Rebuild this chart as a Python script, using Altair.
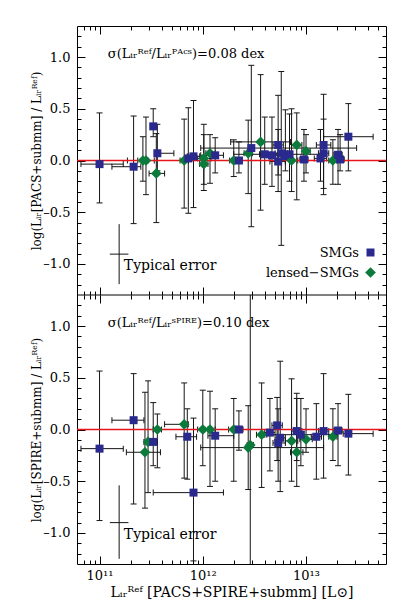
import altair as alt
import pandas as pd

# ---------------- data: top panel (PACS) ----------------
top_logL = [11.00, 11.33, 11.45, 11.42, 11.52, 11.56, 11.55, 11.82, 11.86, 11.91,
            12.01, 12.01, 12.07, 12.12, 12.30, 12.35, 12.44, 12.47, 12.56, 12.60,
            12.67, 12.73, 12.73, 12.76, 12.80, 12.91, 12.86, 12.84, 13.00, 12.98,
            13.17, 13.17, 13.14, 13.26, 13.31, 13.33, 13.41]
top_ratio = [-0.035, -0.06, 0.00, 0.00, 0.33, 0.07, -0.125, 0.00, 0.02, 0.04,
             0.02, -0.035, 0.07, 0.05, 0.00, 0.00, 0.07, 0.12, 0.18, 0.06,
             0.05, 0.15, -0.01, 0.07, 0.04, 0.15, 0.00, 0.06, 0.09, 0.01,
             0.15, 0.07, 0.02, 0.00, 0.055, 0.01, 0.23]
top_hi = [0.46, 0.43, 0.42, 0.23, 0.50, 0.35, 0.26, 0.40, 0.51, 0.58,
          0.25, 0.35, 0.25, 0.22, 0.20, 0.18, 0.39, 0.92, 0.83, 0.42,
          0.42, 0.63, 0.30, 0.86, 0.49, 0.46, 0.50, 0.45, 0.25, 0.30,
          0.64, 0.40, 0.30, 0.20, 0.30, 0.25, 0.55]
top_lo = [-0.41, -0.61, -0.33, -0.20, 0.23, -0.10, -0.60, -0.46, -0.51, -0.455,
          -0.29, -0.23, -0.22, -0.12, -0.155, -0.12, -0.32, -0.64, -0.48, -0.23,
          -0.25, -0.14, -0.30, -0.82, -0.10, -0.38, -0.30, -0.20, -0.12, -0.20,
          -0.27, -0.33, -0.20, -0.23, -0.23, -0.10, -0.10]
top_xlo = [10.82, 11.12, 11.27, 11.37, 11.50, 11.54, 11.48, 11.78, 11.83, 11.85,
           11.95, 11.97, 12.03, 11.98, 12.26, 12.32, 12.40, 11.98, 12.27, 12.55,
           12.62, 12.68, 12.65, 12.70, 12.76, 12.86, 12.80, 12.30, 12.96, 12.94,
           13.10, 13.12, 13.08, 13.22, 13.27, 13.29, 13.17]
top_xhi = [11.23, 11.40, 11.53, 11.47, 11.54, 11.72, 11.63, 11.86, 11.89, 11.97,
           12.08, 12.05, 12.12, 12.20, 12.34, 12.38, 12.48, 13.49, 12.85, 12.66,
           12.72, 12.78, 12.80, 12.82, 12.86, 12.96, 12.92, 13.20, 13.04, 13.02,
           13.24, 13.22, 13.20, 13.30, 13.35, 13.37, 13.65]
top_type = ["S", "S", "L", "L", "S", "S", "L", "L", "S", "S",
            "L", "L", "L", "S", "L", "S", "L", "S", "L", "S",
            "S", "S", "S", "S", "S", "L", "L", "S", "L", "S",
            "S", "S", "S", "L", "S", "S", "S"]

# ---------------- data: bottom panel (SPIRE) ----------------
bot_logL = [11.00, 11.33, 11.44, 11.47, 11.52, 11.56, 11.82, 11.85, 11.91, 12.00,
            12.07, 12.12, 12.30, 12.35, 12.44, 12.46, 12.57, 12.65, 12.72, 12.75,
            12.73, 12.86, 12.91, 12.91, 13.00, 13.17, 13.10, 13.26, 13.31, 13.41,
            12.95]
bot_ratio = [-0.185, 0.09, -0.22, -0.12, -0.12, 0.00, 0.05, -0.07, -0.61, 0.00,
             0.00, -0.06, 0.00, 0.00, -0.175, -0.15, -0.05, -0.03, 0.04, -0.08,
             -0.13, -0.11, -0.22, -0.015, -0.095, -0.015, -0.07, -0.07, -0.01, -0.04,
             -0.05]
bot_hi = [0.565, 0.54, 0.36, 0.47, 0.26, 0.15, 0.45, 0.20, 0.11, 0.38,
          0.37, 0.20, 0.30, 0.18, 0.23, 1.60, 0.45, 0.30, 0.31, 0.66,
          0.20, 0.49, 0.30, 0.35, 0.20, 0.54, 0.25, 0.20, 0.25, 0.34,
          0.30]
bot_lo = [-0.88, -0.72, -0.76, -0.61, -0.35, -0.37, -0.47, -0.48, -1.27, -0.35,
          -0.55, -0.50, -0.50, -0.20, -0.58, -1.60, -0.56, -0.40, -0.30, -0.60,
          -0.50, -0.50, -0.55, -0.30, -0.22, -0.47, -0.48, -0.30, -0.35, -0.44,
          -0.35]
bot_xlo = [10.82, 11.12, 11.26, 11.43, 11.48, 11.52, 11.63, 11.74, 11.52, 11.95,
           12.02, 12.05, 12.25, 12.31, 11.98, 12.43, 12.52, 12.60, 12.67, 12.70,
           12.68, 12.80, 12.85, 12.86, 12.94, 13.12, 13.05, 13.22, 13.27, 13.36,
           12.60]
bot_xhi = [11.23, 11.43, 11.59, 11.51, 11.56, 11.60, 11.86, 11.94, 12.20, 12.05,
           12.12, 12.30, 12.35, 12.39, 13.17, 12.49, 12.62, 12.70, 12.77, 12.80,
           12.80, 12.92, 12.97, 12.96, 13.06, 13.22, 13.15, 13.30, 13.35, 13.65,
           13.30]
bot_type = ["S", "S", "L", "L", "S", "L", "L", "S", "S", "L",
            "L", "S", "L", "S", "L", "L", "L", "S", "S", "S",
            "S", "L", "L", "S", "L", "S", "S", "L", "S", "S",
            "S"]

categories = ["SMGs", "lensed\u2212SMGs"]
type_names = {"S": categories[0], "L": categories[1]}

# typical error crosses: (logL, ratio, +yerr, -yerr, +-xerr in dex)
top_typ = [11.19, -0.905, 0.29, 0.29, 0.09]
bot_typ = [11.19, -0.900, 0.36, 0.35, 0.09]

sup_ref = "\u1d3f\u1d49\u1da0"
sub_ir = "\u1d62\u1d63"
top_sigma = "\u03c3(L" + sub_ir + sup_ref + "/L" + sub_ir + "\u1d3e\u1d2c\u1d9c\u02e2)=0.08 dex"
bot_sigma = "\u03c3(L" + sub_ir + sup_ref + "/L" + sub_ir + "\u02e2\u1d3e\u1d35\u1d3f\u1d31)=0.10 dex"
top_ytitle = "log(L" + sub_ir + "[PACS+submm] / L" + sub_ir + sup_ref + ")"
bot_ytitle = "log(L" + sub_ir + "[SPIRE+submm] / L" + sub_ir + sup_ref + ")"
x_title = "L" + sub_ir + sup_ref + " [PACS+SPIRE+submm] [L\u2299]"

x_major = [1e11, 1e12, 1e13]
x_minor = [k * 10.0 ** e for e in range(10, 14) for k in range(2, 10)
           if 6.05e10 < k * 10.0 ** e < 5.95e13]
y_major = [-1.0, -0.5, 0.0, 0.5, 1.0]
y_minor = [round(v / 10, 1) for v in range(-12, 13) if v % 5 != 0]

# ---------------- layout constants ----------------
FONT = "DejaVu Serif"
W = 309
PH = 269            # height of each panel
H = 2 * PH
LIM = 1.3           # each panel spans -1.3 .. 1.3
SHIFT = -2 * LIM    # bottom panel offset on the common y scale
BLUE = "#2a2a8e"
GREEN = "#0c7a3a"
BAR = "#151515"

xs = alt.Scale(type="log", domain=[6.05e10, 5.95e13], nice=False)
ys = alt.Scale(domain=[SHIFT - LIM, LIM], nice=False, zero=False)


def prep(logL, ratio, hi, lo, xlo, xhi, typ, shift):
    df = pd.DataFrame({
        "L": [10 ** v for v in logL],
        "r": [v + shift for v in ratio],
        "hi": [min(v, LIM) + shift for v in hi],
        "lo": [max(v, -LIM) + shift for v in lo],
        "xlo": [10 ** v for v in xlo],
        "xhi": [10 ** v for v in xhi],
        "type": [type_names[t] for t in typ],
    })
    caps = [(10 ** l, v + shift) for l, a, b in zip(logL, hi, lo)
            for v in (a, b) if abs(v) < LIM]
    return df, pd.DataFrame(caps, columns=["L", "v"])


d1, c1 = prep(top_logL, top_ratio, top_hi, top_lo, top_xlo, top_xhi, top_type, 0.0)
d2, c2 = prep(bot_logL, bot_ratio, bot_hi, bot_lo, bot_xlo, bot_xhi, bot_type, SHIFT)
data = pd.concat([d1, d2], ignore_index=True)
vcaps_df = pd.concat([c1, c2], ignore_index=True)


def X(f):
    return alt.X(f, type="quantitative", scale=xs, axis=None)


def Y(f):
    return alt.Y(f, type="quantitative", scale=ys, axis=None)


base = alt.Chart(data)
vbar = base.mark_rule(color=BAR, strokeWidth=1).encode(x=X("L"), y=Y("hi"), y2="lo")
vcap = alt.Chart(vcaps_df).mark_tick(orient="horizontal", size=6, thickness=1,
                                     color=BAR, opacity=1).encode(x=X("L"), y=Y("v"))
hbar = base.mark_rule(color=BAR, strokeWidth=1).encode(x=X("xlo"), x2="xhi", y=Y("r"))
hcap = base.transform_fold(["xlo", "xhi"], as_=["k", "v"]).mark_tick(
    orient="vertical", size=6, thickness=1, color=BAR, opacity=1).encode(x=X("v"), y=Y("r"))

zero = alt.Chart(pd.DataFrame({"z": [0.0, SHIFT]})).mark_rule(
    color="#e8141c", strokeWidth=1.6).encode(y=Y("z"))
divider = alt.Chart(pd.DataFrame({"z": [-LIM]})).mark_rule(
    color="black", strokeWidth=1).encode(y=Y("z"))

leg = alt.Legend(title=None, orient="none", legendX=287, legendY=220,
                 labelAlign="right", labelOffset=alt.ExprRef(expr="-18"), labelFont=FONT,
                 labelFontSize=13, labelColor="black", rowPadding=6,
                 symbolStrokeWidth=0, labelLimit=300)
pts = base.mark_point(filled=True, opacity=1, strokeWidth=0).encode(
    x=X("L"), y=Y("r"),
    shape=alt.Shape("type:N", scale=alt.Scale(domain=categories, range=["square", "diamond"]), legend=leg),
    color=alt.Color("type:N", scale=alt.Scale(domain=categories, range=[BLUE, GREEN]), legend=leg),
    size=alt.Size("type:N", scale=alt.Scale(domain=categories, range=[64, 115]), legend=leg),
)

te = pd.DataFrame({
    "L": [10 ** t[0] for t in (top_typ, bot_typ)],
    "r": [t[1] + s for t, s in ((top_typ, 0.0), (bot_typ, SHIFT))],
    "r1": [t[1] + t[2] + s for t, s in ((top_typ, 0.0), (bot_typ, SHIFT))],
    "r2": [t[1] - t[3] + s for t, s in ((top_typ, 0.0), (bot_typ, SHIFT))],
    "L1": [10 ** (t[0] - t[4]) for t in (top_typ, bot_typ)],
    "L2": [10 ** (t[0] + t[4]) for t in (top_typ, bot_typ)],
})
te_v = alt.Chart(te).mark_rule(color=BAR, strokeWidth=1).encode(x=X("L"), y=Y("r1"), y2="r2")
te_h = alt.Chart(te).mark_rule(color=BAR, strokeWidth=1).encode(x=X("L1"), x2="L2", y=Y("r"))

sig_df = pd.DataFrame({"L": [10 ** 11.08] * 2, "r": [1.03, 1.03 + SHIFT],
                       "t": [top_sigma, bot_sigma]})
sig = alt.Chart(sig_df).mark_text(align="left", baseline="middle", font=FONT,
                                  fontSize=13, color="black").encode(x=X("L"), y=Y("r"), text="t:N")
typ_df = pd.DataFrame({"L": [10 ** 11.235] * 2, "r": [-1.02, -1.02 + SHIFT],
                       "t": ["Typical error"] * 2})
typ_txt = alt.Chart(typ_df).mark_text(align="left", baseline="middle", font=FONT,
                                      fontSize=14, color="black").encode(x=X("L"), y=Y("r"), text="t:N")

# ---------------- axes (inward ticks on every edge) ----------------
anchor = alt.Chart(pd.DataFrame({"L": [1e12], "r": [0.0]}))
y_major_all = y_major + [v + SHIFT for v in y_major]
y_minor_all = y_minor + [v + SHIFT for v in y_minor]


def tick_ax(orient, offset, values, size):
    return alt.Axis(orient=orient, offset=offset, values=values, tickSize=size,
                    labels=False, domain=False, grid=False, title=None,
                    tickColor="black", tickWidth=1)


def lab_ax(values, title, center):
    return alt.Axis(orient="left", values=values, ticks=False, tickSize=0, domain=False,
                    grid=False, labelPadding=7, labelFont=FONT, labelFontSize=13,
                    labelColor="black",
                    labelExpr="(datum.value < -1.3 ? datum.value + 2.6 : datum.value) < -0.01 ? "
                              "'\u2013' + format(abs(round((datum.value < -1.3 ? datum.value + 2.6 : datum.value) * 10) / 10), '.1f') : "
                              "format(abs(round((datum.value < -1.3 ? datum.value + 2.6 : datum.value) * 10) / 10), '.1f')",
                    title=title, titleFont=FONT, titleFontSize=12, titleFontWeight="normal",
                    titleColor="black", titleX=-41, titleY=center, titleAngle=270,
                    titleBaseline="middle", titleAlign="center")


x_lab = alt.Axis(orient="bottom", values=x_major, ticks=False, tickSize=0,
                 domain=False, grid=False, labelPadding=5, labelFont=FONT,
                 labelFontSize=13, labelColor="black",
                 labelExpr="datum.value < 5e11 ? '10\u00b9\u00b9' : datum.value < 5e12 ? '10\u00b9\u00b2' : '10\u00b9\u00b3'",
                 title=x_title, titleFont=FONT, titleFontSize=14, titleFontWeight="normal",
                 titleColor="black", titlePadding=3)

axis_specs = [
    (x_lab, lab_ax(y_major, top_ytitle, PH / 2)),
    (tick_ax("top", -H, x_major, 8), lab_ax([v + SHIFT for v in y_major], bot_ytitle, PH + PH / 2)),
    (tick_ax("top", -H, x_minor, 4), tick_ax("right", -W, y_major_all, 8)),
    (tick_ax("bottom", -H, x_major, 8), tick_ax("right", -W, y_minor_all, 4)),
    (tick_ax("bottom", -H, x_minor, 4), tick_ax("left", -W, y_major_all, 8)),
    (tick_ax("top", -PH, x_major, 8), tick_ax("left", -W, y_minor_all, 4)),
    (tick_ax("top", -PH, x_minor, 4), None),
    (tick_ax("bottom", -PH, x_major, 8), None),
    (tick_ax("bottom", -PH, x_minor, 4), None),
]
axes_layers = []
for xa, ya in axis_specs:
    axes_layers.append(anchor.mark_point(opacity=0).encode(
        x=alt.X("L:Q", scale=xs, axis=xa),
        y=alt.Y("r:Q", scale=ys, axis=ya)))

chart = alt.layer(
    vbar, hbar, vcap, hcap, zero, divider, te_v, te_h, sig, typ_txt, pts, *axes_layers
).resolve_axis(x="independent", y="independent").properties(
    width=W, height=H,
    padding={"top": 17, "left": 22, "right": 0, "bottom": 0},
    background="white",
).configure_view(stroke="black", strokeWidth=1)

chart.save("out.html", embed_options={"renderer": "svg", "actions": False})
